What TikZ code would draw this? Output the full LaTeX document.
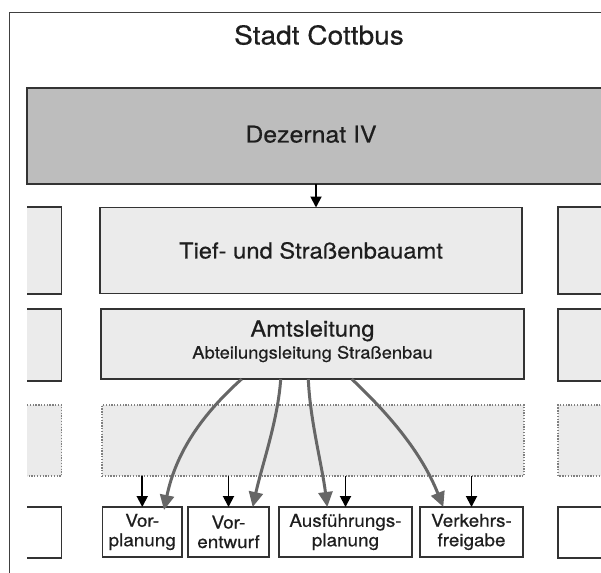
\documentclass[tikz,border=0pt]{standalone}
\usepackage{fontspec}
\setmainfont{TeX Gyre Heros}[FakeStretch=1.08,FakeBold=0.5]
\usetikzlibrary{arrows.meta}
\definecolor{linec}{HTML}{333333}
\definecolor{framec}{HTML}{404040}
\definecolor{darkfill}{HTML}{BDBDBD}
\definecolor{lightfill}{HTML}{EBEBEB}
\definecolor{arrowgray}{HTML}{666666}
\definecolor{dotc}{HTML}{808080}
\definecolor{textc}{HTML}{1E1E1E}
\begin{document}
\begin{tikzpicture}[x=1pt,y=-1pt,
  every node/.style={text=textc},
  box/.style={draw=linec,line width=1.7pt,inner sep=0pt,outer sep=0pt,align=center},
  greybox/.style={box,fill=lightfill},
  whitebox/.style={box,fill=white,font=\fontsize{17.5}{19.5}\selectfont},
  dotbox/.style={fill=lightfill,draw=dotc,line width=1.3pt,dash pattern=on 1.3pt off 1.5pt,inner sep=0pt,outer sep=0pt},
  partline/.style={draw=linec,line width=1.7pt},
  partdot/.style={draw=dotc,line width=1.3pt,dash pattern=on 1.3pt off 1.5pt},
  blackarrow/.style={draw=black,line width=1.9pt,-{Triangle[length=11pt,width=11pt]}},
  greyarrow/.style={draw=arrowgray,line width=3pt,-{Triangle[length=15pt,width=14pt]}}]
\useasboundingbox (0,0) rectangle (601,572);
\fill[white] (0,0) rectangle (601,572);
\clip (0,0) rectangle (601,572);

% outer frame
\draw[framec,line width=1.7pt] (9.5,700) -- (9.5,12.5) -- (700,12.5);

% title
\node[font=\fontsize{26}{30}\selectfont,anchor=base] (title) at (319,44.5) {Stadt Cottbus};

% Dezernat IV
\node[box,fill=darkfill,minimum width=583pt,minimum height=96pt] (dez) at (318.5,136) {};
\node[font=\fontsize{23}{27}\selectfont,anchor=base] (dezt) at (311,142.5) {Dezernat IV};

% main column
\node[greybox,minimum width=422pt,minimum height=86pt,font=\fontsize{22}{26}\selectfont] (tief) at (311,250.5) {Tief- und Straßenbauamt};
\node[greybox,minimum width=423pt,minimum height=70pt,text depth=9pt,font=\fontsize{22}{24}\selectfont] (amts) at (312.5,344)
  {Amtsleitung\\[-2pt]{\fontsize{17}{24}\selectfont Abteilungsleitung Straßenbau}};
\node[dotbox,minimum width=422pt,minimum height=71pt] (dots) at (313,440.5) {};

\node[whitebox,minimum width=79.5pt,minimum height=50pt] (vorpl) at (142.25,532) {Vor-\\planung};
\node[whitebox,minimum width=81pt,minimum height=50pt] (vorent) at (228.5,532) {Vor-\\entwurf};
\node[whitebox,minimum width=133pt,minimum height=50pt] (ausf) at (345.5,532) {Ausführungs-\\planung};
\node[whitebox,minimum width=103pt,minimum height=50pt] (verk) at (471.5,532) {Verkehrs-\\freigabe};

% partial boxes left
\fill[lightfill] (27,207) rectangle (61.5,294);
\draw[partline] (27,207) -- (61.5,207) -- (61.5,294) -- (27,294);
\fill[lightfill] (27,309) rectangle (61.5,381);
\draw[partline] (27,309) -- (61.5,309) -- (61.5,381) -- (27,381);
\fill[lightfill] (27,405) rectangle (61.5,476);
\draw[partdot] (27,405) -- (61.5,405) -- (61.5,476) -- (27,476);
\draw[partline] (27,507) -- (61.5,507) -- (61.5,558) -- (27,558);

% partial boxes right
\filldraw[partline,fill=lightfill] (620,207) -- (558,207) -- (558,294) -- (620,294);
\filldraw[partline,fill=lightfill] (620,309) -- (558,309) -- (558,381) -- (620,381);
\fill[lightfill] (558,405) rectangle (620,476);
\draw[partdot] (620,405) -- (558,405) -- (558,476) -- (620,476);
\draw[partline] (620,507) -- (558,507) -- (558,558) -- (620,558);

% connectors
\coordinate (da) at (316,184);
\draw[blackarrow] (da) -- (da |- tief.north);

\foreach \b in {vorpl,vorent,ausf,verk}
  \draw[blackarrow] (\b.north |- dots.south) -- (\b.north);

\draw[greyarrow] ([xshift=-70.8pt]amts.south) .. controls (202.5,414) and (176,452) .. ([xshift=21.75pt,yshift=-3pt]vorpl.north);
\draw[greyarrow] ([xshift=-31.8pt]amts.south) .. controls (278,420) and (262,465) .. ([xshift=24.2pt]vorent.north);
\draw[greyarrow] ([xshift=-4.2pt]amts.south) .. controls (310,420) and (322,465) .. ([xshift=-18.2pt]ausf.north);
\draw[greyarrow] ([xshift=39.2pt]amts.south) .. controls (388.8,414) and (421.3,452) .. ([xshift=-28.2pt]verk.north);
\end{tikzpicture}
\end{document}
